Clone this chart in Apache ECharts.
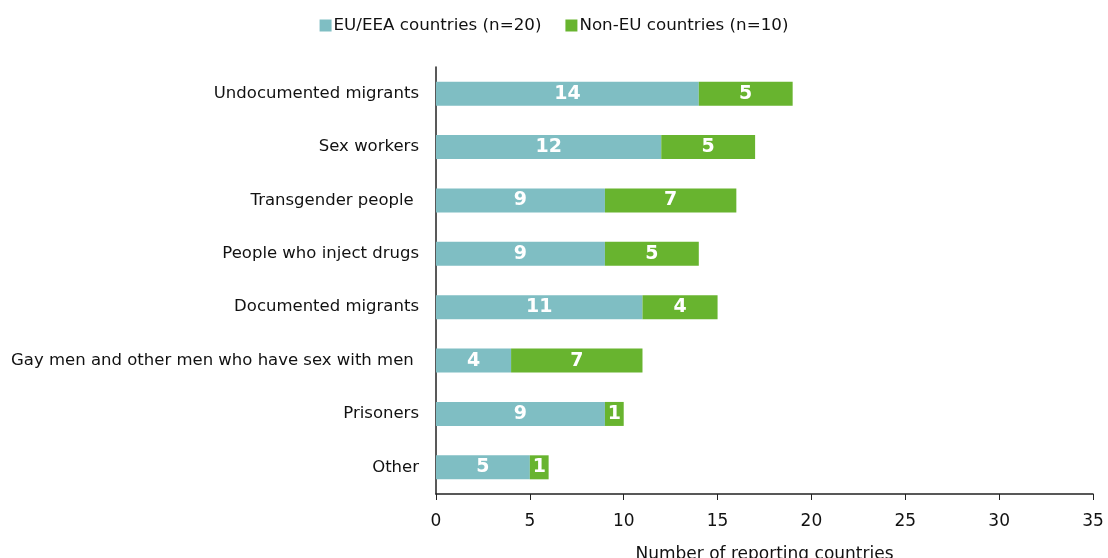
<!DOCTYPE html>
<html><head><meta charset="utf-8">
<script src="https://cdn.jsdelivr.net/npm/echarts@6/dist/echarts.min.js"></script>
<style>html,body{margin:0;padding:0;background:#fff}#c{width:1108px;height:558px}</style>
</head><body><div id="c"></div>
<script>
const categories = ["Undocumented migrants","Sex workers","Transgender people ","People who inject drugs","Documented migrants","Gay men and other men who have sex with men ","Prisoners","Other"];
const euValues = [14,12,9,9,11,4,9,5];
const nonEuValues = [5,5,7,5,4,7,1,1];
const seriesNames = ["EU/EEA countries (n=20)","Non-EU countries (n=10)"];
const xTicks = {min:0,max:35,interval:5};
const font = "DejaVu Sans";
const chart = echarts.init(document.getElementById('c'));
const lbl = {show:true,position:'inside',color:'#fff',fontWeight:'bold',fontSize:19,fontFamily:font};
chart.setOption({
  animation:false,
  textStyle:{fontFamily:font},
  legend:{top:12,left:'center',itemWidth:12,itemHeight:12,itemGap:24,icon:'rect',
    textStyle:{fontSize:16.7,color:'#111',fontFamily:font,padding:[0,0,0,-3]}},
  grid:{left:436,right:15,top:67,bottom:64,containLabel:false,outerBoundsMode:'none'},
  xAxis:{type:'value',min:xTicks.min,max:xTicks.max,interval:xTicks.interval,
    axisLine:{show:true,lineStyle:{color:'#222',width:1.5}},
    axisTick:{show:true,length:6,lineStyle:{color:'#222'}},
    splitLine:{show:false},
    axisLabel:{fontSize:17,color:'#111',margin:19,fontFamily:font},
    name:'Number of reporting countries',nameLocation:'middle',nameGap:52,
    nameTextStyle:{fontSize:17,color:'#111',fontFamily:font}},
  yAxis:{type:'category',data:categories,inverse:true,
    axisLine:{show:true,lineStyle:{color:'#222',width:1.5}},
    axisTick:{show:false},
    axisLabel:{fontSize:16.5,color:'#111',margin:17,fontFamily:font}},
  series:[
    {name:seriesNames[0],type:'bar',stack:'a',data:euValues,barWidth:24,itemStyle:{color:'#7fbec3'},label:lbl},
    {name:seriesNames[1],type:'bar',stack:'a',data:nonEuValues,barWidth:24,itemStyle:{color:'#68b42f'},label:lbl}
  ]
});
</script></body></html>
